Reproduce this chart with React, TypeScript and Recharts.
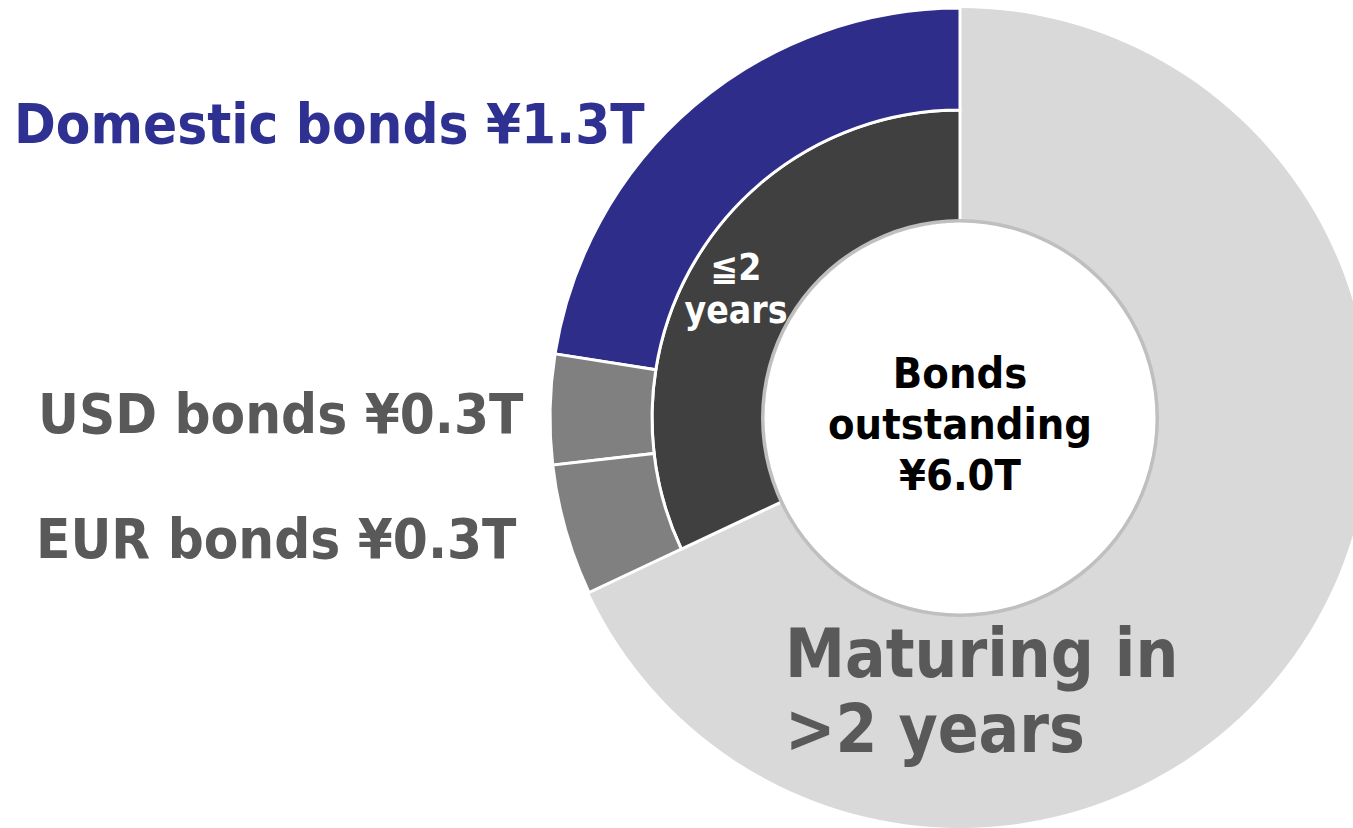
import { PieChart, Pie, Cell } from "recharts";

document.body.style.margin = "0";

const maturityLabels = ["≦2 years", ">2 years"];
const maturityValues = [1.92, 4.08];
const maturityColors = ["#404040", "transparent"];

const currencyLabels = ["Domestic bonds", "USD bonds", "EUR bonds", ">2 years"];
const currencyValues = [1.35, 0.26, 0.31, 4.08];
const currencyColors = ["#2e2e8a", "#808080", "#808080", "transparent"];

const totalLabel = "Bonds outstanding";
const totalValue = 6.0;

const maturityData = maturityLabels.map((name, i) => ({ name, value: maturityValues[i] }));
const currencyData = currencyLabels.map((name, i) => ({ name, value: currencyValues[i] }));
const totalData = [{ name: totalLabel, value: totalValue }];

const W = 1353;
const H = 828;
const CX = 960;
const CY = 418;

const font = '"DejaVu Sans Condensed", "DejaVu Sans", sans-serif';

export default function App() {
  return (
    <div style={{ position: "relative", width: W, height: H, background: "#fff" }}>
      <PieChart width={W} height={H} margin={{ top: 0, right: 0, bottom: 0, left: 0 }}>
        {/* light grey base: the whole donut, overdrawn by the <=2y segments */}
        <Pie
          data={totalData}
          dataKey="value"
          cx={CX}
          cy={CY}
          innerRadius={180}
          outerRadius={410}
          stroke="none"
          isAnimationActive={false}
        >
          <Cell fill="#d9d9d9" stroke="none" />
        </Pie>
        <Pie
          data={maturityData}
          dataKey="value"
          cx={CX}
          cy={CY}
          startAngle={90}
          endAngle={450}
          innerRadius={190}
          outerRadius={308}
          isAnimationActive={false}
        >
          {maturityData.map((d, i) => (
            <Cell
              key={d.name}
              fill={maturityColors[i]}
              stroke={i === 0 ? "#fff" : "none"}
              strokeWidth={i === 0 ? 3 : 0}
            />
          ))}
        </Pie>
        <Pie
          data={currencyData}
          dataKey="value"
          cx={CX}
          cy={CY}
          startAngle={90}
          endAngle={450}
          innerRadius={308}
          outerRadius={410}
          isAnimationActive={false}
        >
          {currencyData.map((d, i) => (
            <Cell
              key={d.name}
              fill={currencyColors[i]}
              stroke={i < 3 ? "#fff" : "none"}
              strokeWidth={i < 3 ? 3 : 0}
            />
          ))}
        </Pie>
        {/* centre disc with its grey rim */}
        <Pie
          data={totalData}
          dataKey="value"
          cx={CX}
          cy={CY}
          innerRadius={195}
          outerRadius={199}
          isAnimationActive={false}
        >
          <Cell fill="#bfbfbf" stroke="none" />
        </Pie>
        <Pie
          data={totalData}
          dataKey="value"
          cx={CX}
          cy={CY}
          innerRadius={0}
          outerRadius={195.5}
          isAnimationActive={false}
        >
          <Cell fill="#fff" stroke="none" />
        </Pie>
      </PieChart>

      <svg
        width={W}
        height={H}
        style={{ position: "absolute", left: 0, top: 0, pointerEvents: "none" }}
        fontFamily={font}
        fontWeight="bold"
      >
        <text x={14} y={143} fontSize={56} fill="#2e3192">
          Domestic bonds ¥1.3T
        </text>
        <text x={38} y={433} fontSize={56} fill="#595959">
          USD bonds ¥0.3T
        </text>
        <text x={36} y={558} fontSize={56} fill="#595959">
          EUR bonds ¥0.3T
        </text>

        <text x={736} y={280} fontSize={37} fill="#fff" textAnchor="middle">
          ≦2
        </text>
        <text x={736} y={323} fontSize={37} fill="#fff" textAnchor="middle">
          years
        </text>

        <text x={960} y={388} fontSize={43} fill="#000" textAnchor="middle">
          Bonds
        </text>
        <text x={960} y={439} fontSize={43} fill="#000" textAnchor="middle">
          outstanding
        </text>
        <text x={960} y={490} fontSize={43} fill="#000" textAnchor="middle">
          ¥6.0T
        </text>

        <text x={785} y={677} fontSize={67} fill="#595959">
          Maturing in
        </text>
        <text x={785} y={752} fontSize={67} fill="#595959">
          &gt;2 years
        </text>
      </svg>
    </div>
  );
}
